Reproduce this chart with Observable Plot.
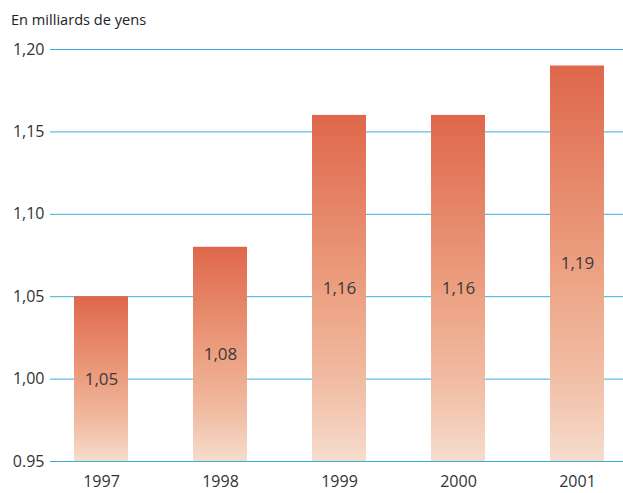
<!DOCTYPE html>
<html>
<head>
<meta charset="utf-8">
<script src="https://cdn.jsdelivr.net/npm/d3@7"></script>
<script src="https://cdn.jsdelivr.net/npm/@observablehq/plot@0.6"></script>
<style>
  html, body { margin: 0; padding: 0; background: #fff; }
  body { width: 623px; height: 493px; overflow: hidden; font-family: "Open Sans", "Noto Sans", sans-serif; }
  #title { height: 36px; box-sizing: border-box; padding: 10px 0 0 11px; font-size: 14.6px; color: #222; line-height: 18px; }
  #chart svg { display: block; overflow: visible; }
</style>
</head>
<body>
<div id="title">En milliards de yens</div>
<div id="chart"></div>
<script>
const years = ["1997", "1998", "1999", "2000", "2001"];
const values = [1.05, 1.08, 1.16, 1.16, 1.19];
const valueLabels = ["1,05", "1,08", "1,16", "1,16", "1,19"];
const yTicks = [0.95, 1.00, 1.05, 1.10, 1.15, 1.20];
const yTickLabels = ["0.95", "1,00", "1,05", "1,10", "1,15", "1,20"];
const baseValue = 0.95;

const data = years.map((y, i) => ({year: y, value: values[i], label: valueLabels[i]}));

const plot = Plot.plot({
  width: 623,
  height: 457,
  marginTop: 13,
  marginBottom: 32,
  marginLeft: 50,
  marginRight: 0,
  style: {fontFamily: "'Open Sans', 'Noto Sans', sans-serif", fontSize: "16px", color: "#333"},
  x: {domain: years, paddingInner: 0.548, paddingOuter: 0.1735, align: 0.556, label: null, tickSize: 0, tickPadding: 14},
  y: {domain: [0.95, 1.20], label: null, ticks: yTicks, tickSize: 0, tickPadding: 6,
      tickFormat: d => yTickLabels[yTicks.findIndex(t => Math.abs(t - d) < 1e-9)]},
  marks: [
    Plot.ruleY(yTicks, {stroke: "#35ade2", strokeWidth: 1}),
    Plot.barY(data, {x: "year", y1: baseValue, y2: "value", fill: "url(#barGrad)"}),
    Plot.text(data, {x: "year", y: d => (baseValue + d.value) / 2, text: "label", fill: "#3a3a3a", fontSize: 17})
  ]
});

const ns = "http://www.w3.org/2000/svg";
const defs = document.createElementNS(ns, "defs");
defs.innerHTML = `<linearGradient id="barGrad" x1="0" y1="0" x2="0" y2="1">
  <stop offset="0" stop-color="#df674b"/>
  <stop offset="0.5" stop-color="#ec9f80"/>
  <stop offset="0.78" stop-color="#f1bda4"/>
  <stop offset="1" stop-color="#f6dccd"/>
</linearGradient>`;
plot.insertBefore(defs, plot.firstChild);
plot.querySelectorAll("[aria-label='y-axis tick label'] text, [aria-label='x-axis tick label'] text").forEach(t => t.setAttribute("fill", "#333"));
document.getElementById("chart").appendChild(plot);
</script>
</body>
</html>
